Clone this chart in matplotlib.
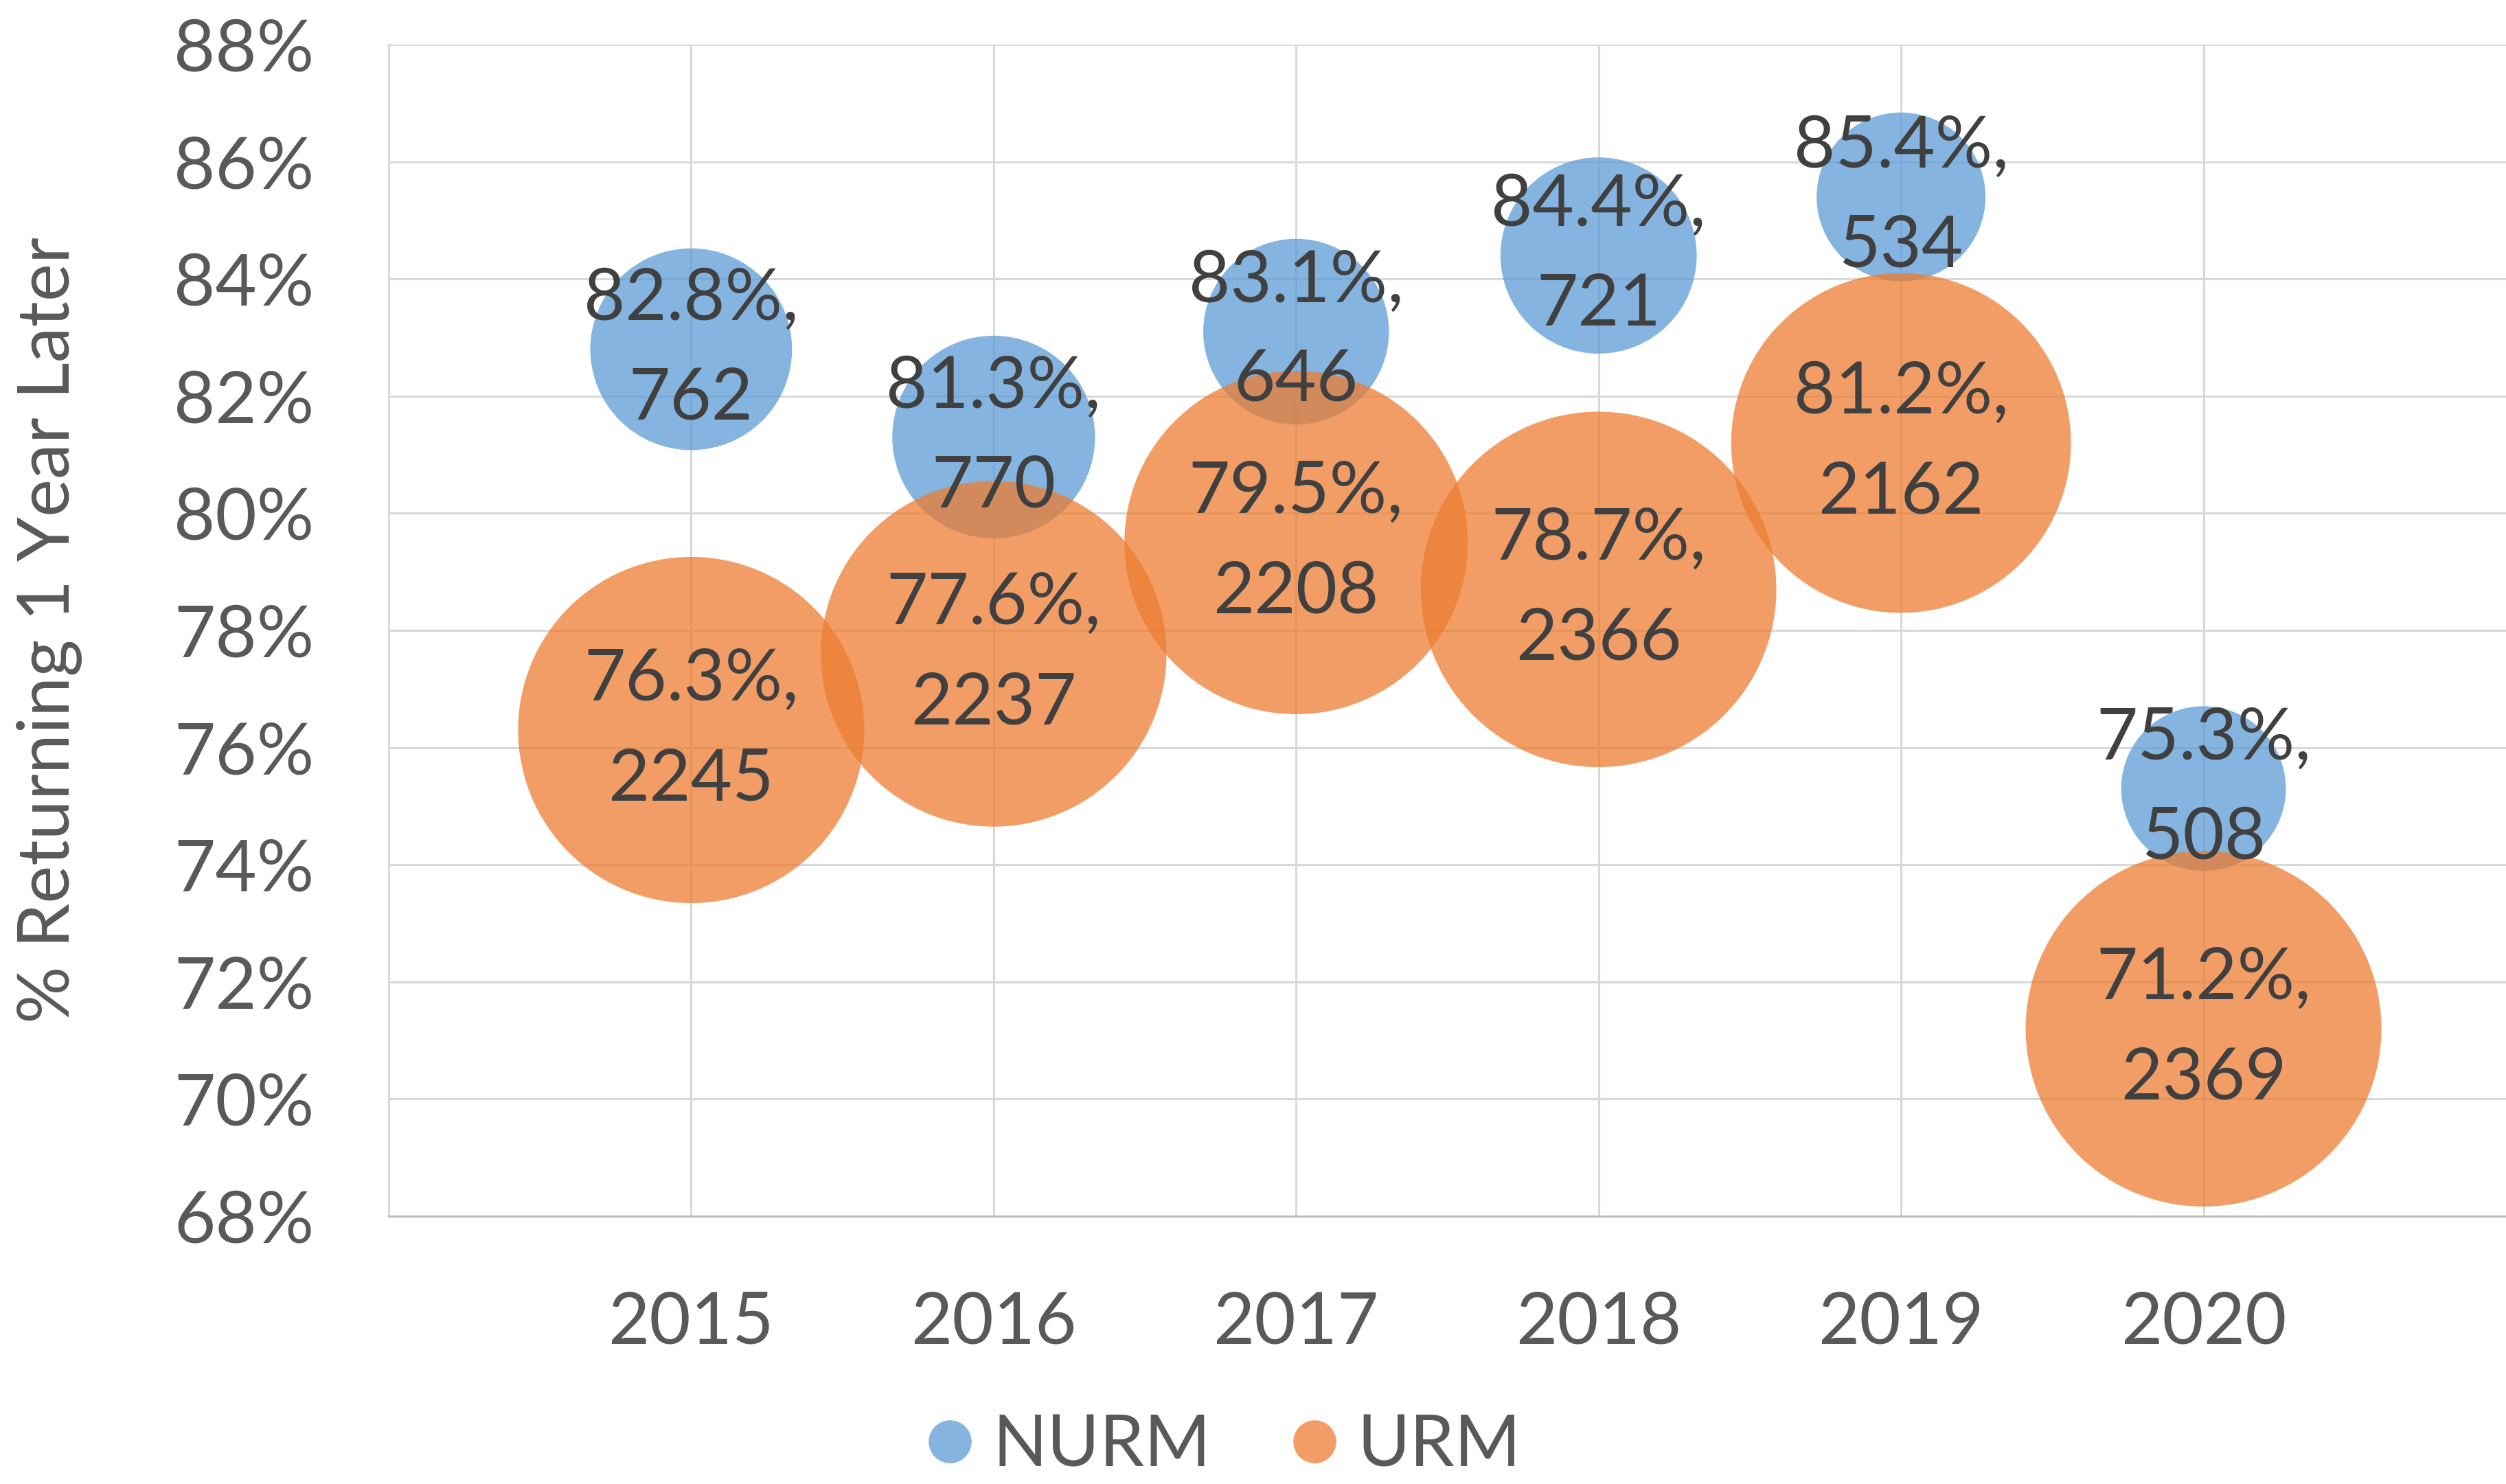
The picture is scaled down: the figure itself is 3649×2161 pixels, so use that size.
import matplotlib
matplotlib.use("Agg")
import matplotlib.pyplot as plt
from matplotlib.lines import Line2D
from matplotlib.ticker import FuncFormatter

# Data
years = [2015, 2016, 2017, 2018, 2019, 2020]
nurm_rate = [82.8, 81.3, 83.1, 84.4, 85.4, 75.3]
nurm_n = [762, 770, 646, 721, 534, 508]
urm_rate = [76.3, 77.6, 79.5, 78.7, 81.2, 71.2]
urm_n = [2245, 2237, 2208, 2366, 2162, 2369]
y_ticks = [68, 70, 72, 74, 76, 78, 80, 82, 84, 86, 88]

blue = "#5B9BD5"
orange = "#ED7D31"
tick_color = "#595959"
label_color = "#404040"
fs = 25

plt.rcParams["font.family"] = ["Lato", "DejaVu Sans"]

fig = plt.figure(figsize=(3649 / 300, 2161 / 300), dpi=300)
ax = fig.add_axes([566 / 3649, 1 - 1771 / 2161, 1 - 566 / 3649, (1771 - 65) / 2161])

# Excel-style bubble sizing: area proportional to value, largest bubble fixed
max_n = max(max(nurm_n), max(urm_n))
max_diam_pt = 124.3
nurm_s = [max_diam_pt ** 2 * n / max_n for n in nurm_n]
urm_s = [max_diam_pt ** 2 * n / max_n for n in urm_n]

ax.scatter(years, nurm_rate, s=nurm_s, color=blue, alpha=0.75, linewidths=0, zorder=2)
ax.scatter(years, urm_rate, s=urm_s, color=orange, alpha=0.75, linewidths=0, zorder=3)

for x, r, n in zip(years, nurm_rate, nurm_n):
    ax.text(x, r, f"{r:.1f}%,\n{n}", ha="center", va="center", fontsize=fs,
            color=label_color, linespacing=1.65, zorder=5)
for x, r, n in zip(years, urm_rate, urm_n):
    ax.text(x, r, f"{r:.1f}%,\n{n}", ha="center", va="center", fontsize=fs,
            color=label_color, linespacing=1.65, zorder=5)

ax.set_xlim(2014, 2021)
ax.set_ylim(68, 88)
ax.set_xticks(years)
ax.set_yticks(y_ticks)
ax.yaxis.set_major_formatter(FuncFormatter(lambda v, p: f"{v:.0f}%"))
ax.tick_params(axis="both", length=0, labelsize=fs, colors=tick_color)
ax.tick_params(axis="y", pad=26)
ax.tick_params(axis="x", pad=26)

ax.set_axisbelow(True)
ax.grid(True, color="#D9D9D9", linewidth=0.75)
for side in ["top", "right"]:
    ax.spines[side].set_visible(False)
ax.spines["left"].set_color("#D9D9D9")
ax.spines["left"].set_linewidth(0.75)
ax.spines["bottom"].set_color("#BFBFBF")
ax.spines["bottom"].set_linewidth(0.75)

ax.set_ylabel("% Returning 1 Year Later", fontsize=fs, color=tick_color)
ax.yaxis.set_label_coords((120 - 566) / (3649 - 566), 0.5)

handles = [
    Line2D([], [], marker="o", linestyle="none", markersize=15, color=blue, alpha=0.75, markeredgewidth=0),
    Line2D([], [], marker="o", linestyle="none", markersize=15, color=orange, alpha=0.75, markeredgewidth=0),
]
fig.legend(handles, ["NURM", "URM"], loc="center", bbox_to_anchor=(1778 / 3649, 1 - 2106 / 2161),
           ncol=2, frameon=False, fontsize=fs, labelcolor=tick_color,
           handletextpad=0.2, columnspacing=1.04, handlelength=0.8)

fig.savefig("out.png", dpi=300)
